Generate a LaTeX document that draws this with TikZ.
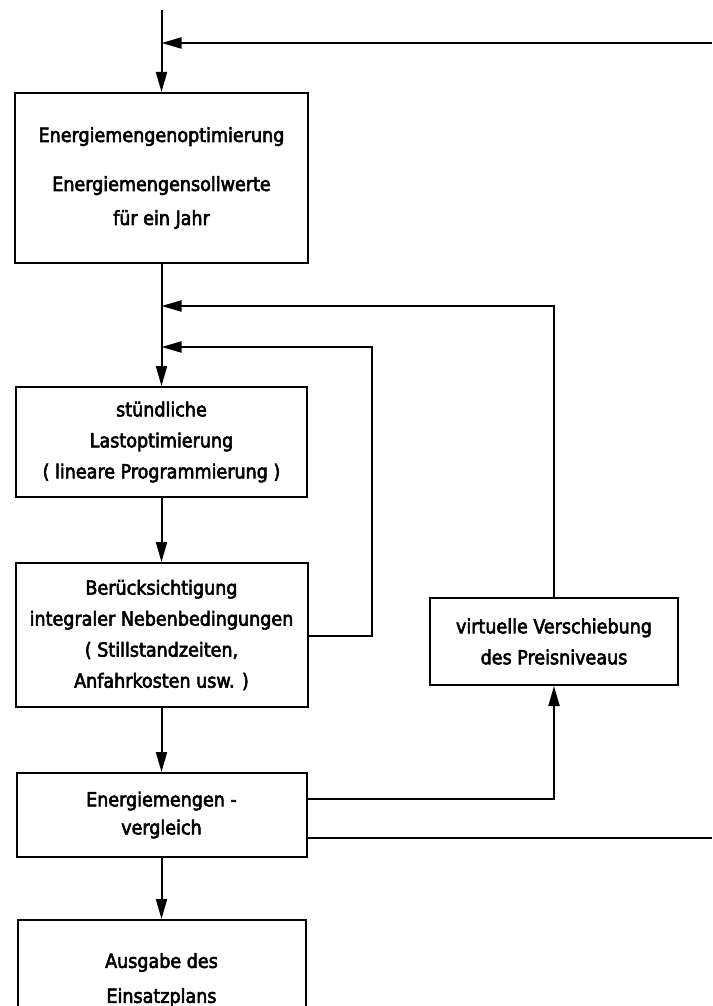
\documentclass[tikz,border=0pt]{standalone}
\usepackage{fontspec}
\newfontfamily\boxfont{DejaVu Sans Condensed}[FakeBold=3]
\usetikzlibrary{arrows.meta}
\begin{document}
\begin{tikzpicture}[x=1pt,y=-1pt,
  box/.style={draw,line width=2pt,inner sep=0pt,align=center,
    font=\boxfont\fontsize{19.5}{31}\selectfont},
  flow/.style={line width=2pt,-{Triangle[length=20pt,width=11pt]}},
  plain/.style={line width=2pt}]
\useasboundingbox (0,0) rectangle (712,1006);
\clip (0,0) rectangle (712,1006);

% main column
\node[box,minimum width=293pt,minimum height=170pt] (opt) at (161.5,178)
  {Energiemengenoptimierung\\[18pt]Energiemengensollwerte\\[3pt]für ein Jahr};
\node[box,minimum width=291pt,minimum height=110pt] (hour) at (161.5,442)
  {stündliche\\Lastoptimierung\\( lineare Programmierung )};
\node[box,minimum width=292pt,minimum height=144pt] (cons) at (161.5,635)
  {Berücksichtigung\\integraler Nebenbedingungen\\( Stillstandzeiten,\\Anfahrkosten usw. )};
\node[box,minimum width=290pt,minimum height=84pt] (cmp) at (161.5,815)
  {Energiemengen -\\[-3pt]vergleich};
\node[box,minimum width=288pt,minimum height=120pt] (out) at (161.5,980)
  {Ausgabe des\\[4pt]Einsatzplans};

% side box
\node[box,minimum width=248pt,minimum height=87pt] (shift) at (554,641.5)
  {virtuelle Verschiebung\\des Preisniveaus};

% junctions and free ends
\coordinate (top) at (161.5,10);
\coordinate (jt) at (161.5,43);
\coordinate (rtop) at (712,43);
\coordinate (j1) at (161.5,306);
\coordinate (j2) at (161.5,347);
\coordinate (r2) at (372,347);
\coordinate (rbot) at (712,838);

% connectors
\draw[flow] (top) -- (opt.north);
\draw[flow] (rtop) -- (jt);
\draw[flow] (opt.south) -- (hour.north);
\draw[flow] (hour.south) -- (cons.north);
\draw[flow] (cons.south) -- (cmp.north);
\draw[flow] (cmp.south) -- (out.north);
\draw[flow] (shift.north) |- (j1);
\draw[flow] ([yshift=-1pt]cons.east) -| (r2) -- (j2);
\draw[flow] ([yshift=16pt]cmp.east) -| (shift.south);
\draw[plain] ([yshift=-23pt]cmp.east) -- (rbot);
\end{tikzpicture}
\end{document}
